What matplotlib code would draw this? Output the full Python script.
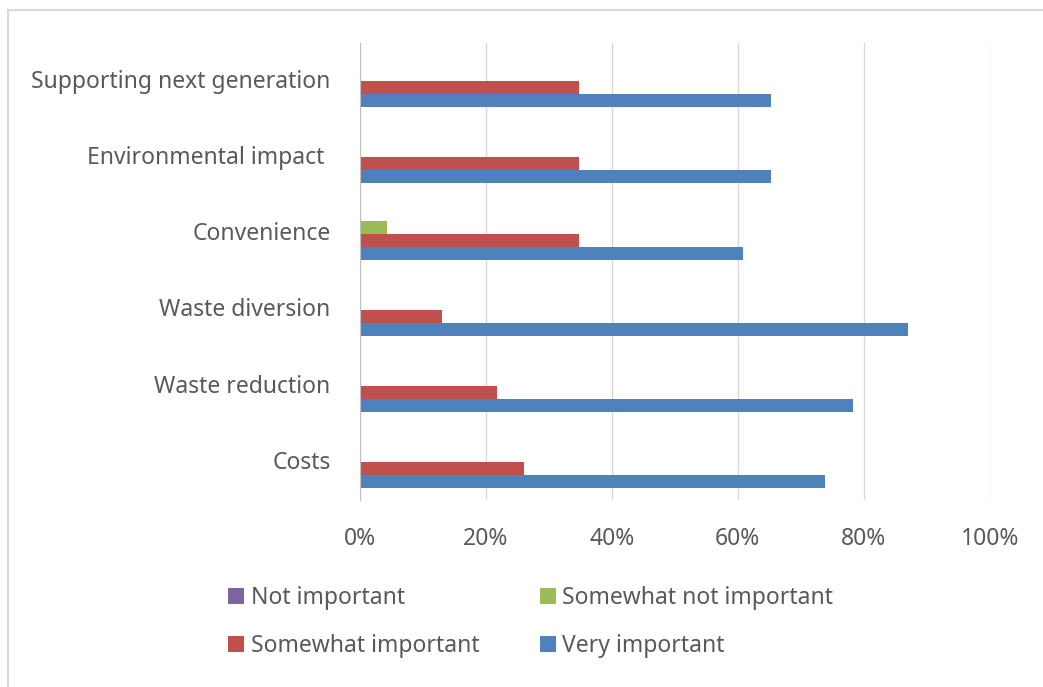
import numpy as np
import matplotlib.pyplot as plt
from matplotlib.patches import Rectangle

plt.rcParams['font.family'] = ['Noto Sans', 'DejaVu Sans']

# survey answers, share of respondents (bottom category first)
categories = ['Costs', 'Waste reduction', 'Waste diversion', 'Convenience',
              'Environmental impact ', 'Supporting next generation']
very_important = [0.739, 0.783, 0.870, 0.609, 0.652, 0.652]
somewhat_important = [0.261, 0.217, 0.130, 0.348, 0.348, 0.348]
somewhat_not_important = [0.0, 0.0, 0.0, 0.043, 0.0, 0.0]
not_important = [0.0, 0.0, 0.0, 0.0, 0.0, 0.0]
x_ticks = [0, 0.2, 0.4, 0.6, 0.8, 1.0]
x_labels = ['0%', '20%', '40%', '60%', '80%', '100%']

fig = plt.figure(figsize=(10.43, 6.87), dpi=100)
ax = fig.add_axes([0.345, 0.272, 0.604, 0.665])

y = np.arange(len(categories))
h = 0.17
series = [
    ('Very important', very_important, '#4F81BD', -1.5),
    ('Somewhat important', somewhat_important, '#C0504D', -0.5),
    ('Somewhat not important', somewhat_not_important, '#9BBB59', 0.5),
    ('Not important', not_important, '#8064A2', 1.5),
]
handles = {}
for name, vals, col, off in series:
    handles[name] = ax.barh(y + off * h, vals, height=h, color=col,
                            label=name)

ax.set_xlim(0, 1)
ax.set_ylim(-0.5, len(categories) - 0.5)
ax.set_xticks(x_ticks)
ax.set_xticklabels(x_labels)
ax.set_yticks(y + 0.03)
ax.set_yticklabels(categories)
ax.tick_params(axis='both', length=0, labelsize=16.5, labelcolor='#595959')
ax.tick_params(axis='x', pad=19)
ax.tick_params(axis='y', pad=21)
ax.grid(axis='x', color='#D9D9D9', linewidth=1)
ax.set_axisbelow(True)
for s in ['top', 'right', 'bottom']:
    ax.spines[s].set_visible(False)
ax.spines['left'].set_color('#BFBFBF')

order = ['Not important', 'Somewhat important', 'Somewhat not important',
         'Very important']
fig.legend([handles[n] for n in order], order, ncol=2, frameon=False,
           loc='center left', bbox_to_anchor=(0.208, 0.094), borderpad=0,
           fontsize=16.5, labelcolor='#595959', handlelength=0.7,
           handleheight=0.7, handletextpad=0.3, columnspacing=2.6,
           labelspacing=1.05)

# outer chart frame
fig.add_artist(Rectangle((0.0077, -0.1), 1.1, 1.085, transform=fig.transFigure,
                         fill=False, edgecolor='#D9D9D9', linewidth=1.5))

fig.savefig('out.png', dpi=100)
